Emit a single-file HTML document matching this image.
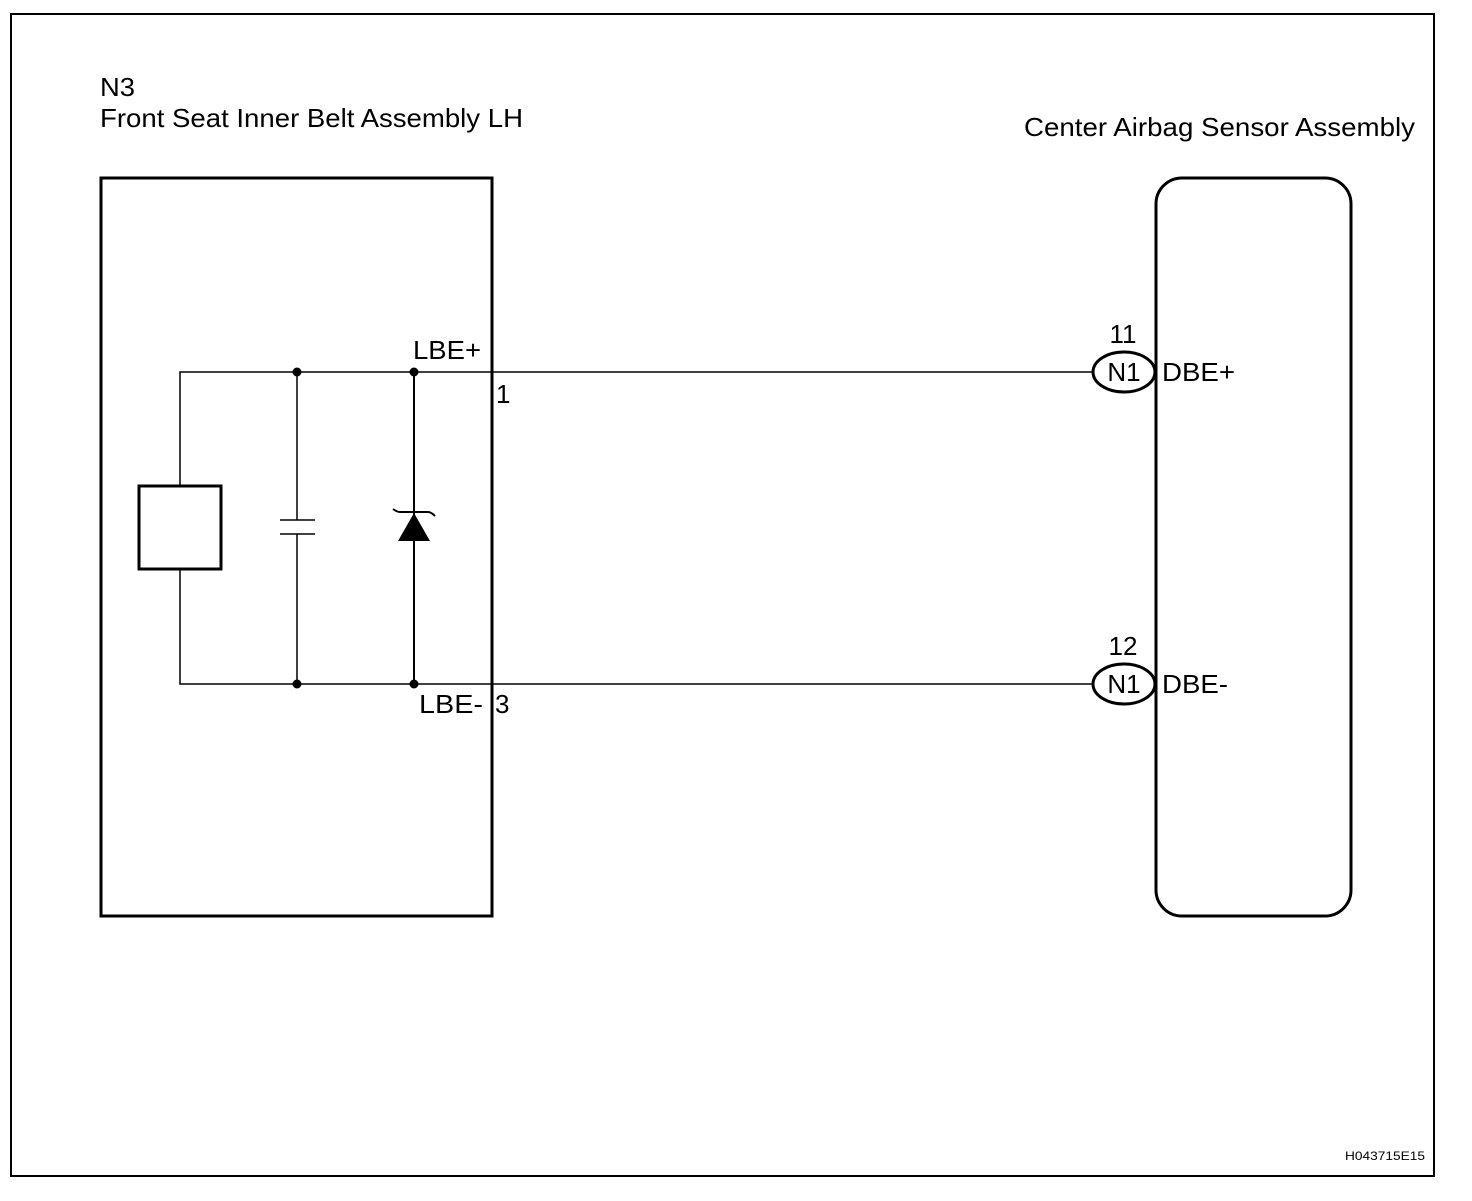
<!DOCTYPE html>
<html><head><style>body{margin:0;background:#fff}svg text{font-family:"Liberation Sans",sans-serif;fill:#000}</style></head>
<body>
<svg width="1472" height="1196" xmlns="http://www.w3.org/2000/svg">
<rect x="11" y="14" width="1423" height="1162" fill="none" stroke="#000" stroke-width="2"/>
<text x="100" y="96" font-size="26" textLength="35" lengthAdjust="spacingAndGlyphs">N3</text>
<text x="100" y="127" font-size="26" textLength="423" lengthAdjust="spacingAndGlyphs">Front Seat Inner Belt Assembly LH</text>
<text x="1024" y="136" font-size="26" textLength="391" lengthAdjust="spacingAndGlyphs">Center Airbag Sensor Assembly</text>
<rect x="101" y="178" width="391" height="738" fill="none" stroke="#000" stroke-width="3"/>
<rect x="1156" y="178" width="195" height="738" rx="26" fill="none" stroke="#000" stroke-width="3"/>
<g stroke="#000" stroke-width="1.5" fill="none">
<path d="M180 486V372H1093M180 569V684H1093"/>
<path d="M297 372V520M297 534V684M280 520H315M280 534H315"/>
<path d="M414 372V684" stroke-width="2"/>
<path d="M393 509Q397 512 400 512H428Q431 512 435 516" stroke-width="2"/>
</g>
<rect x="139" y="486" width="82" height="83" fill="#fff" stroke="#000" stroke-width="3"/>
<polygon points="414,513 398,541 430,541" fill="#000"/>
<g fill="#000"><circle cx="297" cy="372" r="4.5"/><circle cx="414" cy="372" r="4.5"/><circle cx="297" cy="684" r="4.5"/><circle cx="414" cy="684" r="4.5"/></g>
<text x="413" y="359" font-size="26" textLength="68" lengthAdjust="spacingAndGlyphs">LBE+</text>
<text x="496" y="403" font-size="26">1</text>
<text x="419" y="713" font-size="26" textLength="64" lengthAdjust="spacingAndGlyphs">LBE-</text>
<text x="495" y="713" font-size="26">3</text>
<ellipse cx="1124" cy="372" rx="31" ry="20" fill="#fff" stroke="#000" stroke-width="3"/>
<ellipse cx="1124" cy="684" rx="31" ry="20" fill="#fff" stroke="#000" stroke-width="3"/>
<text x="1124" y="381" font-size="26" text-anchor="middle">N1</text>
<text x="1124" y="693" font-size="26" text-anchor="middle">N1</text>
<text x="1123" y="343" font-size="26" text-anchor="middle">11</text>
<text x="1123" y="655" font-size="26" text-anchor="middle">12</text>
<text x="1162" y="381" font-size="26" textLength="73" lengthAdjust="spacingAndGlyphs">DBE+</text>
<text x="1162" y="693" font-size="26" textLength="66" lengthAdjust="spacingAndGlyphs">DBE-</text>
<text x="1345" y="1160" font-size="12" textLength="80" lengthAdjust="spacingAndGlyphs">H043715E15</text>
</svg>
</body></html>
